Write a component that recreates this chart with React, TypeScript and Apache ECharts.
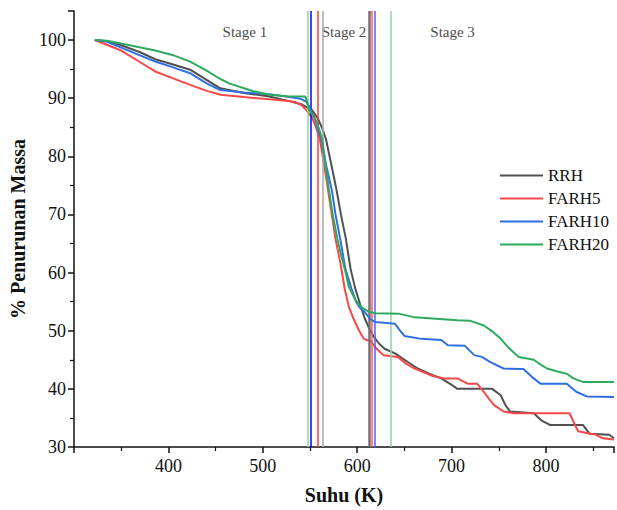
import React, { useEffect, useRef } from "react";
import * as echarts from "echarts";

const seriesNames = ["RRH", "FARH5", "FARH10", "FARH20"];
const seriesColors = ["#505050", "#f84848", "#2f6fe4", "#2eaa5c"];

const rrh: [number, number][] = [
  [322, 100], [335, 99.8], [350, 99.1], [370, 97.9], [386, 96.7], [405, 95.8], [423, 94.9], [440, 93.2], [455, 91.7],
  [480, 90.9], [507, 90.3], [528, 89.5], [540, 89.0], [546, 88.5], [552, 88.0], [558, 86.6], [563, 84.8], [567, 82.9],
  [572, 79.0], [578, 74.3], [583, 69.8], [588, 65.8], [593, 60.6], [598, 57.2], [603, 54.6], [608, 52.1],
  [613, 50.3], [617, 49.1], [623, 47.8], [629, 46.9], [640, 46.1], [652, 44.8], [664, 43.5], [676, 42.6],
  [689, 41.8], [700, 40.7], [706, 40.0], [743, 40.0], [752, 38.9], [757, 37.2], [762, 36.1], [787, 35.8],
  [795, 34.6], [804, 33.8], [839, 33.8], [846, 32.3], [867, 32.1], [872, 31.5],
];
const farh5: [number, number][] = [
  [322, 100], [330, 99.5], [350, 98.2], [368, 96.4], [386, 94.6], [405, 93.4], [423, 92.3], [440, 91.3], [455, 90.6],
  [480, 90.2], [507, 89.8], [528, 89.5], [535, 89.3], [541, 88.8], [546, 88.0], [552, 86.7], [556, 85.2], [560.5, 82.9],
  [565, 78.5], [569, 74.3], [573, 70.0], [577, 65.8], [582, 61.8], [587, 57.0], [591, 54.2], [596, 52.1],
  [602, 50.0], [607, 48.6], [615, 48.1], [621, 46.8], [628, 45.8], [643, 45.5], [652, 44.3], [661, 43.5],
  [680, 42.2], [692, 41.8], [706, 41.8], [717, 40.9], [727, 40.9], [734, 39.5], [740, 38.2], [745, 37.2],
  [755, 36.1], [766, 35.8], [825, 35.8], [830, 34.0], [834, 32.7], [853, 32.1], [860, 31.5], [872, 31.3],
];
const farh10: [number, number][] = [
  [322, 100], [335, 99.7], [350, 98.7], [368, 97.5], [386, 96.3], [405, 95.3], [423, 94.3], [440, 92.6], [455, 91.4],
  [480, 91.0], [507, 90.7], [528, 90.2], [540, 89.9], [546, 89.4], [550, 88.3], [554, 86.9], [558, 85.0], [562, 82.9],
  [567, 78.5], [573, 74.3], [577, 70.0], [582, 65.8], [587.5, 60.6], [594, 57.2], [599, 54.9], [603, 53.9],
  [608, 53.2], [614, 52.0], [619, 51.5], [640, 51.2], [645, 50.1], [650, 49.1], [668, 48.6], [689, 48.4],
  [696, 47.5], [714, 47.4], [724, 45.8], [732, 45.5], [741, 44.6], [755, 43.5], [776, 43.4], [787, 41.8],
  [794, 40.9], [822, 40.9], [832, 39.5], [843, 38.7], [872, 38.6],
];
const farh20: [number, number][] = [
  [322, 100], [335, 99.9], [350, 99.4], [368, 98.8], [386, 98.2], [405, 97.4], [423, 96.3], [440, 94.8], [455, 93.3],
  [465, 92.5], [490, 91.2], [507, 90.6], [528, 90.3], [545, 90.3], [547, 89.4], [549, 88.0], [555, 86.6], [559, 85.0],
  [563, 82.9], [566, 79.0], [570, 74.3], [574, 70.0], [579, 65.8], [583, 63.0], [587.5, 60.2], [591, 57.6],
  [598, 55.3], [605, 54.0], [612, 53.3], [619, 53.0], [645, 52.9], [661, 52.3], [706, 51.8], [720, 51.7],
  [734, 50.9], [743, 49.9], [752, 48.6], [762, 46.8], [771, 45.5], [787, 45.0], [794, 44.2], [801, 43.5],
  [812, 43.0], [822, 42.6], [829, 41.8], [839, 41.2], [872, 41.2],
];
const seriesData = [rrh, farh5, farh10, farh20];

const vLineX = [548, 551, 558, 563, 613, 615, 619, 635];
const vLineColors = ["#8fd4a4", "#0000ff", "#ff3a3a", "#a8a8a8", "#707070", "#ff5a5a", "#5a5aff", "#8fd4a4"];
const vLineWidths = [1.5, 1.5, 1.5, 1.5, 2.5, 1.5, 1.5, 1.5];

const stageLabels = ["Stage 1", "Stage 2", "Stage 3"];
const stagePos: [number, number][] = [[481, 101.4], [586, 101.4], [701, 101.4]];

const xMin = 300;
const xMax = 872;
const xInterval = 100;
const yMin = 30;
const yMax = 105;
const yInterval = 10;

const FONT = "Liberation Serif";

export default function App() {
  const ref = useRef<HTMLDivElement>(null);
  useEffect(() => {
    if (!ref.current) return;
    const chart = echarts.init(ref.current, null, { renderer: "svg" });
    const lineSeries = seriesNames.map((name, i) => ({
      name,
      type: "line",
      data: seriesData[i],
      symbol: "none",
      smooth: false,
      z: 3 + i,
      lineStyle: { color: seriesColors[i], width: 2 },
      itemStyle: { color: seriesColors[i] },
    }));
    const option: any = {
      animation: false,
      backgroundColor: "#ffffff",
      grid: { left: 71, right: 0, top: 11, bottom: 61, containLabel: false },
      legend: {
        data: seriesNames,
        orient: "vertical",
        left: 495,
        top: 162,
        icon: "rect",
        itemWidth: 43,
        itemHeight: 2,
        itemGap: 6,
        padding: 5,
        textStyle: { fontFamily: FONT, fontSize: 17, color: "#111", lineHeight: 17 },
      },
      xAxis: {
        type: "value",
        min: xMin,
        max: xMax,
        interval: xInterval,
        name: "Suhu (K)",
        nameLocation: "middle",
        nameGap: 38,
        nameTextStyle: { fontFamily: FONT, fontSize: 20, fontWeight: "bold", color: "#111" },
        axisLine: { show: true, onZero: false, lineStyle: { color: "#111", width: 1.5 } },
        axisTick: { show: true, inside: false, length: 6, lineStyle: { color: "#111", width: 1.5 } },
        minorTick: { show: true, splitNumber: 2, length: 4, lineStyle: { color: "#111", width: 1.2 } },
        splitLine: { show: false },
        axisLabel: {
          fontFamily: FONT,
          fontSize: 18,
          color: "#111",
          margin: 10,
          formatter: (v: number) => (v % 100 === 0 && v > xMin ? String(v) : ""),
        },
      },
      yAxis: {
        type: "value",
        min: yMin,
        max: yMax,
        interval: yInterval,
        name: "% Penurunan Massa",
        nameLocation: "middle",
        nameGap: 46,
        nameTextStyle: { fontFamily: FONT, fontSize: 20, fontWeight: "bold", color: "#111" },
        axisLine: { show: true, onZero: false, lineStyle: { color: "#111", width: 1.5 } },
        axisTick: { show: true, inside: false, length: 6, lineStyle: { color: "#111", width: 1.5 } },
        minorTick: { show: true, splitNumber: 2, length: 4, lineStyle: { color: "#111", width: 1.2 } },
        splitLine: { show: false },
        axisLabel: {
          fontFamily: FONT,
          fontSize: 18,
          color: "#111",
          margin: 8,
          formatter: (v: number) => (v % 10 === 0 ? String(v) : ""),
        },
      },
      series: [
        {
          name: "stages",
          type: "line",
          data: [],
          silent: true,
          z: 2,
          markLine: {
            silent: true,
            symbol: "none",
            label: { show: false },
            data: vLineX.map((x, i) => ({
              xAxis: x,
              lineStyle: { color: vLineColors[i], width: vLineWidths[i], type: "solid" },
            })),
          },
        },
        {
          name: "stageLabels",
          type: "scatter",
          symbolSize: 0,
          silent: true,
          data: stagePos.map((p, i) => ({ value: p, name: stageLabels[i] })),
          label: {
            show: true,
            position: "inside",
            formatter: (p: any) => p.name,
            fontFamily: FONT,
            fontSize: 15,
            color: "#111",
          },
        },
        ...lineSeries,
      ],
    };
    chart.setOption(option);
    return () => chart.dispose();
  }, []);
  return (
    <div
      ref={ref}
      style={{ position: "fixed", left: 0, top: 0, width: 617, height: 510, background: "#fff" }}
    />
  );
}
